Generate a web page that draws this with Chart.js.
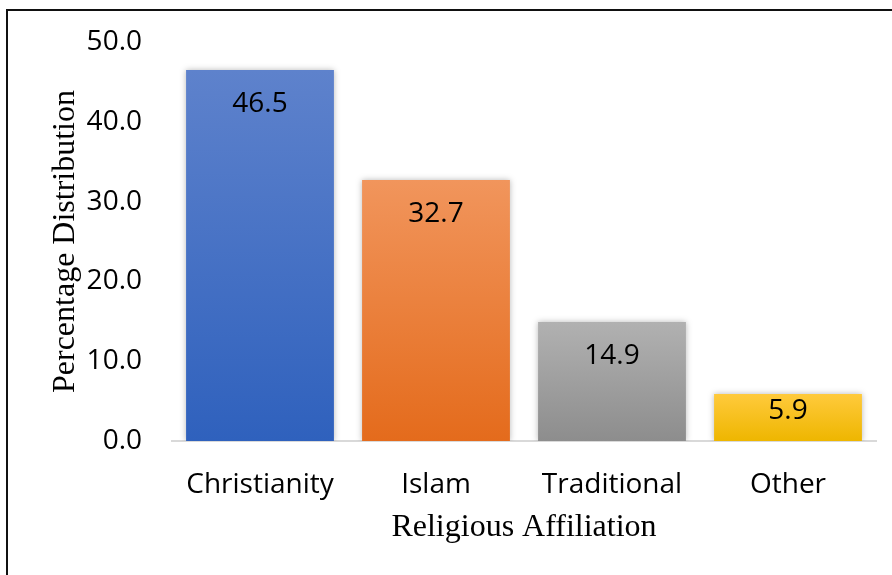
<!DOCTYPE html>
<html>
<head>
<meta charset="utf-8">
<script src="https://cdn.jsdelivr.net/npm/chart.js@4"></script>
<style>
html,body{margin:0;padding:0;background:#fff;width:892px;height:575px;overflow:hidden;}
#frame{position:absolute;left:6px;top:9px;width:950px;height:650px;border-left:2px solid #111;border-top:2px solid #111;box-sizing:border-box;}
#wrap{position:absolute;left:0;top:0;width:892px;height:575px;}
canvas{display:block;}
</style>
</head>
<body>
<div id="frame"></div>
<div id="wrap"><canvas id="c" width="892" height="575"></canvas></div>
<script>
const categories = ["Christianity", "Islam", "Traditional", "Other"];
const values = [46.5, 32.7, 14.9, 5.9];
const yTicks = [0, 10, 20, 30, 40, 50];
const topColors = ["#5e82cc", "#f1955c", "#b1b1b1", "#ffca3c"];
const bottomColors = ["#2f61bd", "#e46b1c", "#8d8d8d", "#eeb600"];

const SANS = "'Open Sans', 'Noto Sans', sans-serif";
const SERIF = "'Liberation Serif', 'DejaVu Serif', serif";

function barFill(ctx) {
  const chart = ctx.chart;
  const i = ctx.dataIndex;
  if (!chart.chartArea || !chart.scales.y) return topColors[i];
  const y = chart.scales.y;
  const top = y.getPixelForValue(values[i]);
  const base = y.getPixelForValue(0);
  const g = chart.ctx.createLinearGradient(0, top, 0, base);
  g.addColorStop(0, topColors[i]);
  g.addColorStop(1, bottomColors[i]);
  return g;
}

const shadowPlugin = {
  id: 'shadow',
  beforeDatasetsDraw(chart) {
    const c = chart.ctx;
    c.save();
    c.shadowColor = 'rgba(0,0,0,0.28)';
    c.shadowBlur = 6;
    c.shadowOffsetX = 0;
    c.shadowOffsetY = 0;
  },
  afterDatasetsDraw(chart) {
    chart.ctx.restore();
    const c = chart.ctx;
    const meta = chart.getDatasetMeta(0);
    c.save();
    c.fillStyle = '#000';
    c.font = "28px " + SANS;
    c.textAlign = 'center';
    c.textBaseline = 'middle';
    meta.data.forEach((bar, i) => {
      const h = bar.base - bar.y;
      const off = Math.min(34, h * 0.36);
      c.fillText(values[i].toFixed(1), bar.x, bar.y + off);
    });
    c.restore();
  }
};

new Chart(document.getElementById('c'), {
  type: 'bar',
  data: {
    labels: categories,
    datasets: [{
      data: values,
      backgroundColor: barFill,
      borderWidth: 0,
      barPercentage: 0.84,
      categoryPercentage: 1.0
    }]
  },
  options: {
    responsive: false,
    animation: false,
    devicePixelRatio: 1,
    layout: { padding: { left: 0, right: 16, top: 42, bottom: 20 } },
    plugins: { legend: { display: false }, tooltip: { enabled: false } },
    scales: {
      x: {
        grid: { display: false, drawTicks: false },
        border: { display: true, color: '#d9d9d9', width: 2 },
        ticks: { color: '#000', font: { family: SANS, size: 28 }, padding: 27 },
        title: { display: true, text: 'Religious Affiliation', color: '#000',
                 font: { family: SERIF, size: 32 }, padding: { top: 0, bottom: 8 } },
        afterFit(s) { s.height = 114; }
      },
      y: {
        min: 0, max: 50,
        afterBuildTicks(s) { s.ticks = yTicks.map(v => ({ value: v })); },
        grid: { display: false, drawTicks: false },
        border: { display: false },
        ticks: { color: '#000', font: { family: SANS, size: 28 }, padding: 30,
                 callback: v => Number(v).toFixed(1) },
        title: { display: true, text: 'Percentage Distribution', color: '#000',
                 font: { family: SERIF, size: 32 }, padding: { top: 46, bottom: 0 } },
        afterFit(s) { s.width = 172; s.paddingTop = 0; s.paddingBottom = 0; }
      }
    }
  },
  plugins: [shadowPlugin]
});
</script>
</body>
</html>
